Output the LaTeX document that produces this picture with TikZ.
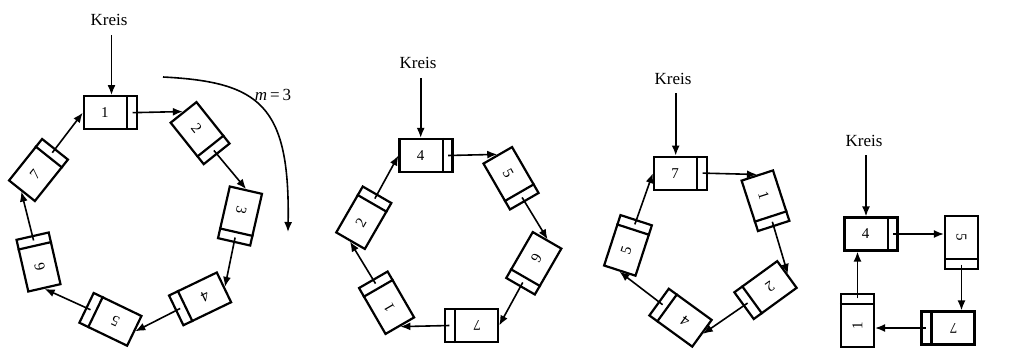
\documentclass[tikz,border=0pt]{standalone}
\usepackage{fontspec}
\setmainfont{Liberation Serif}
\usetikzlibrary{arrows.meta,calc}
\tikzset{
  box/.style={draw, line width=2.2pt, minimum width=53pt, minimum height=33pt, inner sep=0pt, font=\fontsize{15}{15}\selectfont},
  sep/.style={line width=2.2pt},
  ptr/.style={-{Latex[length=10pt,width=8pt]}, line width=1.6pt},
  lbl/.style={font=\fontsize{17}{17}\selectfont, inner sep=0pt},
}
\newcommand{\cellbox}[1]{\makebox[42pt]{#1}\makebox[11pt]{}}
\newcommand{\makering}[6]{%
  \foreach \lab [count=\i from 0] in {#6} {
    \pgfmathsetmacro\ang{90+90/#2-\i*360/#2}
    \pgfmathsetmacro\rot{-\i*360/#2}
    \node[box, rotate=\rot] (#1\i) at ({#3+#5*cos(\ang)},{#4-#5*sin(\ang)}) {\cellbox{\lab}};
    \draw[sep] ($(#1\i.north east)!11pt!(#1\i.north west)$) -- ($(#1\i.south east)!11pt!(#1\i.south west)$);
    \coordinate (#1P\i) at ($(#1\i.east)!5.5pt!(#1\i.west)$);
  }
  \pgfmathtruncatemacro\last{#2-1}
  \foreach \i in {0,...,\last} {
    \pgfmathtruncatemacro\j{mod(\i+1,#2)}
    \draw[ptr] (#1P\i) -- (#1\j.west);
  }
}
\begin{document}
\begin{tikzpicture}[x=1pt,y=-1pt]
\useasboundingbox (0,0) rectangle (1010,351);
\fill[white] (0,0) rectangle (1010,351);

% diagram 1
\makering{A}{7}{134}{216}{106}{1,2,3,4,5,6,7}
\node[lbl] (KA) at (109,20) {Kreis};
\coordinate (KAs) at (111.5,35);
\draw[ptr] (KAs) -- (KAs |- A0.north);
\coordinate (ms) at (163,77);
\coordinate (me) at (288,232);
\draw[ptr] (ms) .. controls (260,82) and (290,105) .. (me);
\node[lbl] (mlab) at (273,95) {\textit{m}\,=\,3};

% diagram 2
\makering{B}{6}{448.8}{240.5}{88}{4,5,6,7,1,2}
\node[lbl] (KB) at (418,62.5) {Kreis};
\coordinate (KBs) at (420.7,78);
\draw[ptr] (KBs) -- (KBs |- B0.north);

% diagram 3
\makering{C}{5}{704}{245.4}{76}{7,1,2,4,5}
\node[lbl] (KC) at (673,79) {Kreis};
\coordinate (KCs) at (675.7,93);
\draw[ptr] (KCs) -- (KCs |- C0.north);

% diagram 4
\node[box, rotate=0] (D0) at (871,234) {\cellbox{4}};
\node[box, rotate=-90] (D1) at (961.5,242.5) {\cellbox{5}};
\node[box, rotate=180] (D2) at (948,328) {\cellbox{7}};
\node[box, rotate=90] (D3) at (857.5,320.5) {\cellbox{1}};
\foreach \i in {0,1,2,3} {
  \draw[sep] ($(D\i.north east)!11pt!(D\i.north west)$) -- ($(D\i.south east)!11pt!(D\i.south west)$);
  \coordinate (DP\i) at ($(D\i.east)!5.5pt!(D\i.west)$);
}
\draw[ptr] (DP0) -- (DP0 -| D1.south);
\draw[ptr] (DP1) -- (DP1 |- D2.south);
\draw[ptr] (DP2) -- (DP2 -| D3.south);
\draw[ptr] (DP3) -- (DP3 |- D0.south);
\node[lbl] (KD) at (864,141) {Kreis};
\coordinate (KDs) at (866,155);
\draw[ptr] (KDs) -- (KDs |- D0.north);
\end{tikzpicture}
\end{document}
